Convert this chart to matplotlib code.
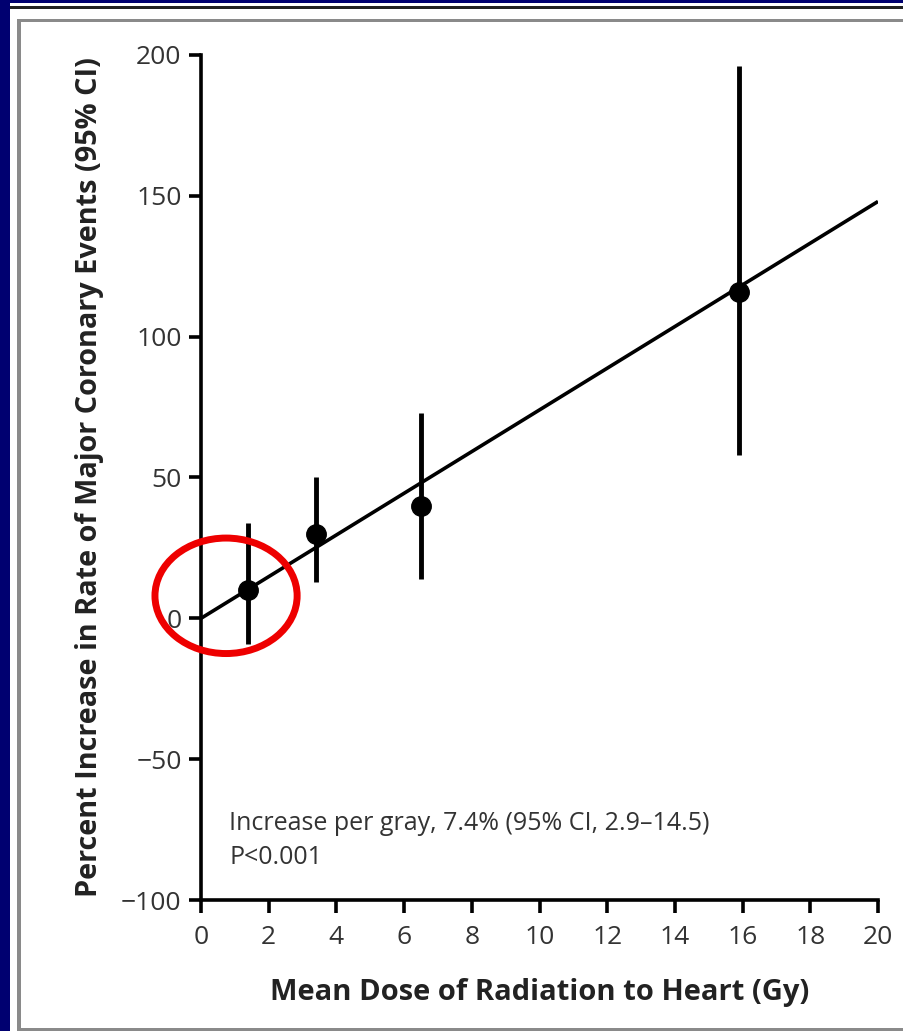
import matplotlib
matplotlib.use("Agg")
import matplotlib.pyplot as plt
import matplotlib.patches as patches

# Data
dose = [1.4, 3.4, 6.5, 15.9]
increase = [10, 30, 40, 116]
ci_low = [-9, 13, 14, 58]
ci_high = [34, 50, 73, 196]
fit_x = [0, 20]
fit_y = [0, 148]
x_ticks = [0, 2, 4, 6, 8, 10, 12, 14, 16, 18, 20]
y_ticks = [-100, -50, 0, 50, 100, 150, 200]

plt.rcParams['font.family'] = ['Open Sans', 'DejaVu Sans']

fig = plt.figure(figsize=(9.04, 10.31), dpi=100)
fig.patch.set_facecolor('#000070')

W, H = 904, 1031


def px_rect(x0, y0, x1, y1, **kw):
    # rectangle in pixel coords (top-left origin), kept behind the axes
    r = patches.Rectangle((x0 / W, 1 - y1 / H), (x1 - x0) / W, (y1 - y0) / H,
                          transform=fig.transFigure, zorder=-10, **kw)
    fig.add_artist(r)


# white panel and frame lines
px_rect(10, 3, 904, 1031, facecolor='white', edgecolor='none')
px_rect(10, 6, 904, 9, facecolor='#222222', edgecolor='none')
px_rect(17, 19, 904, 22, facecolor='#8a8a8a', edgecolor='none')
px_rect(17, 19, 21, 1031, facecolor='#8a8a8a', edgecolor='none')
px_rect(17, 1028, 904, 1031, facecolor='#8a8a8a', edgecolor='none')

ax = fig.add_axes([201 / W, 1 - 900 / H, (878 - 201) / W, (900 - 55) / H])
ax.set_facecolor('none')

ax.plot(fit_x, fit_y, color='black', lw=2.6, solid_capstyle='butt')
yerr = [[m - lo for m, lo in zip(increase, ci_low)],
        [hi - m for m, hi in zip(increase, ci_high)]]
ax.errorbar(dose, increase, yerr=yerr, fmt='o', color='black', ms=14,
            elinewidth=3.5, capsize=0)

ax.set_xlim(0, 20)
ax.set_ylim(-100, 200)
ax.set_xticks(x_ticks)
ax.set_yticks(y_ticks)
ax.set_yticklabels([str(v).replace('-', '\u2212') for v in y_ticks])
for s in ['top', 'right']:
    ax.spines[s].set_visible(False)
for s in ['left', 'bottom']:
    ax.spines[s].set_linewidth(2.6)
ax.tick_params(direction='out', length=9, width=2.6, labelsize=19,
               colors='black', labelcolor='#333333', pad=5)
ax.tick_params(axis='x', pad=9)

ax.set_xlabel('Mean Dose of Radiation to Heart (Gy)', fontsize=21,
              fontweight='bold', color='#222222', labelpad=20)
ax.set_ylabel('Percent Increase in Rate of Major Coronary Events (95% CI)',
              fontsize=20.8, fontweight='bold', color='#222222', labelpad=12)

ax.text(0.83, -73, 'Increase per gray, 7.4% (95% CI, 2.9\u201314.5)',
        fontsize=18, color='#333333', va='center', ha='left')
ax.text(0.83, -85, 'P<0.001', fontsize=18, color='#333333',
        va='center', ha='left')

# red highlight ellipse
ell = patches.Ellipse((0.74, 8), 4.2, 41, facecolor='none',
                      edgecolor='#ee0000', lw=5, clip_on=False, zorder=5)
ax.add_patch(ell)

fig.savefig('out.png', dpi=100, facecolor=fig.get_facecolor())
